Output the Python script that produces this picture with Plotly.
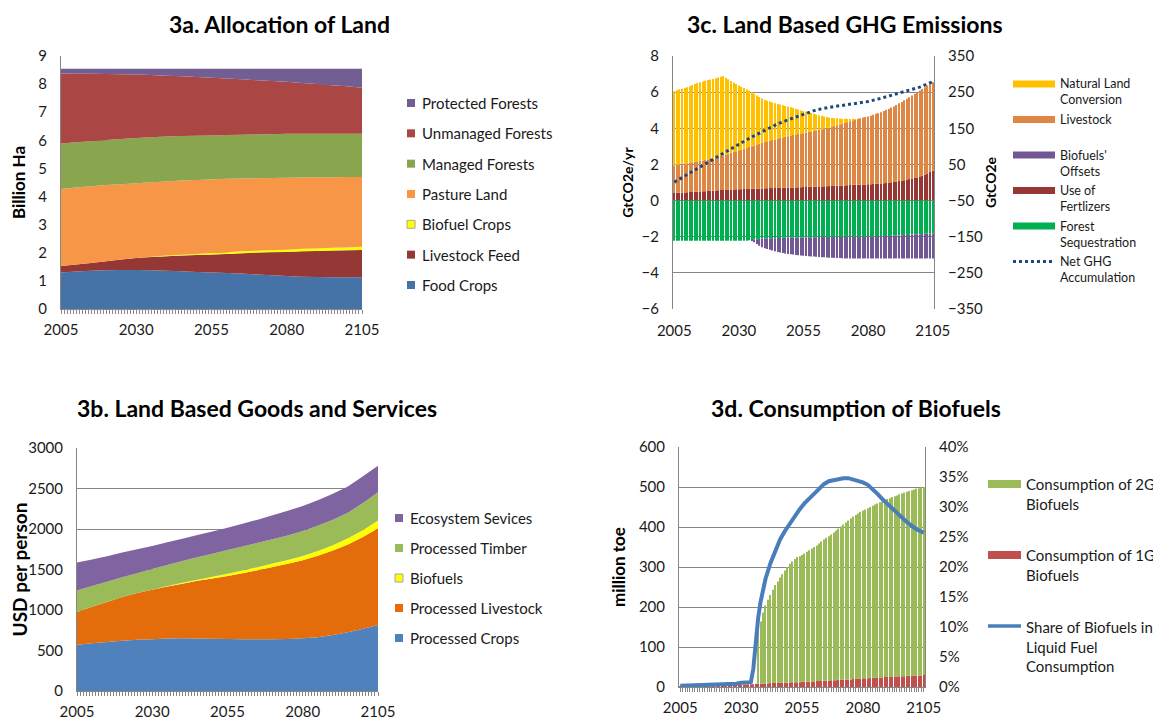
import plotly.graph_objects as go

# ---------------- data ----------------
years5 = [2005, 2010, 2015, 2020, 2025, 2030, 2035, 2040, 2045, 2050, 2055,
          2060, 2065, 2070, 2075, 2080, 2085, 2090, 2095, 2100, 2105]
years = list(range(2005, 2106))
x_ticks = [2005, 2030, 2055, 2080, 2105]

# 3a. Allocation of Land (billion ha), 5-year steps
land_food = [1.30, 1.33, 1.36, 1.38, 1.39, 1.39, 1.38, 1.36, 1.34, 1.32, 1.30,
             1.28, 1.26, 1.23, 1.20, 1.17, 1.15, 1.14, 1.13, 1.13, 1.13]
land_livestock_feed = [0.23, 0.25, 0.28, 0.32, 0.37, 0.42, 0.47, 0.52, 0.56, 0.60, 0.64,
                       0.68, 0.72, 0.77, 0.82, 0.86, 0.90, 0.92, 0.95, 0.96, 0.97]
land_biofuel = [0.00, 0.00, 0.00, 0.00, 0.00, 0.00, 0.01, 0.02, 0.03, 0.04, 0.05,
                0.06, 0.07, 0.07, 0.08, 0.08, 0.09, 0.09, 0.10, 0.10, 0.11]
land_pasture = [2.74, 2.74, 2.73, 2.71, 2.68, 2.66, 2.65, 2.64, 2.64, 2.63, 2.62,
                2.61, 2.59, 2.58, 2.56, 2.56, 2.54, 2.54, 2.51, 2.51, 2.49]
land_managed = [1.62, 1.61, 1.60, 1.60, 1.61, 1.61, 1.60, 1.60, 1.58, 1.57, 1.56,
                1.56, 1.56, 1.56, 1.56, 1.56, 1.55, 1.54, 1.54, 1.53, 1.53]
land_unmanaged = [2.49, 2.44, 2.40, 2.35, 2.30, 2.26, 2.21, 2.16, 2.13, 2.09, 2.06,
                  2.01, 1.97, 1.93, 1.89, 1.85, 1.81, 1.77, 1.73, 1.69, 1.64]
land_protected = [0.17, 0.18, 0.18, 0.19, 0.20, 0.21, 0.23, 0.25, 0.27, 0.30, 0.32,
                  0.35, 0.38, 0.41, 0.44, 0.47, 0.51, 0.55, 0.59, 0.63, 0.68]

# 3b. Land Based Goods and Services (USD per person), 5-year steps
gs_crops = [570, 590, 605, 620, 632, 640, 648, 650, 648, 645, 642,
            640, 640, 640, 642, 650, 665, 690, 725, 770, 815]
gs_livestock = [405, 450, 495, 540, 578, 610, 642, 675, 712, 745, 778,
                815, 850, 890, 928, 965, 1005, 1045, 1085, 1130, 1195]
gs_biofuels = [0, 0, 0, 0, 0, 0, 5, 10, 15, 22, 28,
               33, 38, 43, 48, 52, 58, 65, 75, 85, 95]
gs_timber = [265, 255, 250, 245, 245, 255, 260, 270, 275, 283, 292,
             297, 302, 302, 302, 308, 312, 315, 315, 335, 350]
gs_ecosystem = [345, 330, 315, 305, 295, 285, 280, 275, 275, 275, 275,
                280, 285, 295, 305, 310, 315, 320, 325, 330, 325]

# 3c. Land Based GHG Emissions (GtCO2e/yr), annual
ghg_fertilizers = [0.42, 0.43, 0.44, 0.44, 0.45, 0.46, 0.47, 0.48, 0.49, 0.49,
                   0.50, 0.51, 0.52, 0.53, 0.54, 0.55, 0.56, 0.57, 0.58, 0.59,
                   0.59, 0.60, 0.61, 0.61, 0.62, 0.63, 0.63, 0.64, 0.64, 0.65,
                   0.65, 0.66, 0.66, 0.67, 0.67, 0.68, 0.68, 0.69, 0.69, 0.70,
                   0.70, 0.71, 0.71, 0.72, 0.72, 0.73, 0.73, 0.73, 0.74, 0.74,
                   0.75, 0.75, 0.76, 0.76, 0.77, 0.77, 0.78, 0.78, 0.79, 0.79,
                   0.80, 0.80, 0.81, 0.82, 0.82, 0.83, 0.84, 0.85, 0.86, 0.87,
                   0.87, 0.88, 0.88, 0.89, 0.89, 0.90, 0.91, 0.92, 0.93, 0.94,
                   0.95, 0.96, 0.97, 0.99, 1.01, 1.03, 1.05, 1.08, 1.10, 1.13,
                   1.16, 1.19, 1.22, 1.25, 1.28, 1.31, 1.37, 1.43, 1.50, 1.58,
                   1.67]
ghg_livestock = [1.53, 1.54, 1.56, 1.58, 1.60, 1.61, 1.63, 1.64, 1.66, 1.68,
                 1.70, 1.71, 1.73, 1.74, 1.76, 1.77, 1.81, 1.84, 1.88, 1.91,
                 1.96, 2.00, 2.03, 2.08, 2.11, 2.15, 2.19, 2.23, 2.27, 2.31,
                 2.35, 2.39, 2.44, 2.47, 2.52, 2.56, 2.60, 2.62, 2.66, 2.68,
                 2.72, 2.75, 2.78, 2.81, 2.84, 2.87, 2.90, 2.92, 2.94, 2.96,
                 2.98, 3.01, 3.03, 3.06, 3.08, 3.11, 3.13, 3.17, 3.19, 3.23,
                 3.25, 3.29, 3.32, 3.35, 3.39, 3.42, 3.46, 3.49, 3.53, 3.56,
                 3.61, 3.65, 3.68, 3.70, 3.73, 3.75, 3.79, 3.83, 3.87, 3.90,
                 3.94, 3.99, 4.05, 4.09, 4.14, 4.18, 4.24, 4.30, 4.36, 4.42,
                 4.47, 4.53, 4.59, 4.66, 4.72, 4.78, 4.81, 4.84, 4.87, 4.88,
                 4.88]
ghg_natural_land = [4.10, 4.13, 4.15, 4.17, 4.18, 4.20, 4.23, 4.27, 4.30, 4.33,
                    4.35, 4.37, 4.38, 4.40, 4.40, 4.41, 4.40, 4.40, 4.39, 4.38,
                    4.25, 4.11, 3.98, 3.84, 3.72, 3.59, 3.48, 3.36, 3.24, 3.12,
                    3.00, 2.86, 2.72, 2.59, 2.46, 2.33, 2.24, 2.17, 2.08, 2.01,
                    1.93, 1.85, 1.79, 1.71, 1.64, 1.57, 1.49, 1.43, 1.36, 1.29,
                    1.22, 1.15, 1.08, 1.02, 0.95, 0.88, 0.81, 0.74, 0.67, 0.60,
                    0.53, 0.48, 0.43, 0.38, 0.33, 0.28, 0.23, 0.18, 0.13, 0.08,
                    0.03, 0, 0, 0, 0, 0, 0, 0, 0, 0,
                    0, 0, 0, 0, 0, 0, 0, 0, 0, 0,
                    0, 0, 0, 0, 0, 0, 0, 0, 0, 0,
                    0]
ghg_forest = [-2.22, -2.22, -2.22, -2.22, -2.22, -2.22, -2.22, -2.22, -2.22, -2.22,
              -2.22, -2.22, -2.22, -2.22, -2.22, -2.22, -2.22, -2.22, -2.22, -2.22,
              -2.22, -2.22, -2.22, -2.22, -2.22, -2.22, -2.22, -2.22, -2.22, -2.20,
              -2.18, -2.16, -2.14, -2.12, -2.11, -2.10, -2.09, -2.09, -2.08, -2.08,
              -2.07, -2.07, -2.06, -2.06, -2.05, -2.05, -2.05, -2.04, -2.04, -2.04,
              -2.04, -2.04, -2.03, -2.03, -2.03, -2.03, -2.02, -2.02, -2.02, -2.02,
              -2.02, -2.01, -2.01, -2.01, -2.01, -2.01, -2.00, -2.00, -2.00, -2.00,
              -2.00, -2.00, -2.00, -2.00, -2.00, -2.00, -1.99, -1.99, -1.98, -1.98,
              -1.97, -1.97, -1.96, -1.96, -1.95, -1.95, -1.94, -1.93, -1.92, -1.91,
              -1.90, -1.89, -1.88, -1.87, -1.86, -1.86, -1.85, -1.84, -1.83, -1.83,
              -1.82]
ghg_biofuel_offsets = [0, 0, 0, 0, 0, 0, 0, 0, 0, 0,
                       0, 0, 0, 0, 0, 0, 0, 0, 0, 0,
                       0, 0, 0, 0, 0, 0, 0, 0, 0, 0,
                       -0.02, -0.14, -0.26, -0.38, -0.47, -0.54, -0.59, -0.63, -0.68, -0.72,
                       -0.77, -0.80, -0.84, -0.87, -0.90, -0.92, -0.94, -0.97, -0.99, -1.00,
                       -1.01, -1.03, -1.05, -1.06, -1.07, -1.08, -1.10, -1.11, -1.12, -1.13,
                       -1.14, -1.16, -1.16, -1.17, -1.17, -1.18, -1.20, -1.20, -1.20, -1.20,
                       -1.20, -1.20, -1.20, -1.20, -1.20, -1.20, -1.21, -1.21, -1.22, -1.22,
                       -1.23, -1.23, -1.24, -1.24, -1.25, -1.25, -1.26, -1.27, -1.28, -1.29,
                       -1.30, -1.31, -1.32, -1.33, -1.34, -1.34, -1.35, -1.36, -1.37, -1.37,
                       -1.38]
ghg_net_accumulation = [1, 22, 43, 66, 87, 106, 126, 144, 162, 176, 188,
                        201, 208, 213, 219, 224, 233, 243, 254, 264, 279]

# 3d. Consumption of Biofuels (million toe), annual
bio_1g = [1, 1, 1, 1, 1, 2, 2, 2, 2, 2,
          2, 2, 2, 3, 3, 3, 3, 3, 4, 4,
          4, 4, 5, 5, 5, 6, 6, 6, 7, 7,
          7, 8, 8, 8, 9, 9, 9, 10, 10, 10,
          10, 11, 11, 11, 11, 12, 12, 12, 12, 12,
          13, 13, 13, 14, 14, 14, 15, 15, 15, 16,
          16, 16, 17, 17, 17, 18, 18, 18, 19, 19,
          19, 20, 20, 21, 21, 22, 22, 22, 23, 23,
          23, 24, 24, 24, 25, 25, 25, 26, 26, 26,
          27, 27, 27, 28, 28, 28, 28, 29, 29, 29,
          30]
bio_2g = [0, 0, 0, 0, 0, 0, 0, 0, 0, 0,
          0, 0, 0, 0, 0, 0, 0, 0, 0, 0,
          0, 0, 0, 0, 0, 0, 0, 0, 0, 0,
          0, 0, 131, 156, 177, 195, 209, 220, 233, 245,
          254, 263, 271, 280, 289, 296, 302, 308, 313, 315,
          317, 321, 325, 328, 332, 336, 339, 344, 349, 353,
          357, 361, 364, 369, 374, 378, 383, 388, 392, 397,
          402, 406, 410, 413, 417, 419, 422, 425, 427, 430,
          433, 435, 438, 440, 442, 445, 447, 449, 451, 453,
          455, 457, 459, 460, 462, 464, 466, 467, 468, 470,
          470]
share_years = [2005, 2010, 2015, 2020, 2025, 2028, 2030, 2033, 2034, 2035, 2036,
               2037, 2038, 2039, 2040, 2042, 2044, 2046, 2048, 2050, 2052, 2054,
               2056, 2058, 2060, 2062, 2064, 2066, 2068, 2070, 2072, 2074, 2076,
               2078, 2080, 2082, 2084, 2086, 2088, 2090, 2092, 2094, 2096, 2098,
               2100, 2102, 2105]
share_pct = [0.2, 0.25, 0.3, 0.35, 0.45, 0.55, 0.7, 0.75, 0.8, 3.0, 8.0,
             11.5, 14.2, 16.3, 18.0, 20.6, 22.8, 24.6, 26.0, 27.3, 28.5, 29.6,
             30.6, 31.4, 32.3, 33.1, 33.8, 34.3, 34.5, 34.7, 34.8, 34.8, 34.6,
             34.4, 34.1, 33.7, 33.0, 32.2, 31.3, 30.5, 29.7, 28.9, 28.2, 27.5,
             26.9, 26.3, 25.7]

# ---------------- styling ----------------
W, H = 1161, 721
PAGE_MARGIN = 8  # default browser body margin around the plot div
FONT = "Lato"
GRID = "#868686"
TXT = "#1a1a1a"


def fx(p):
    return (p - PAGE_MARGIN) / W


def fy(p):
    return 1 - (p - PAGE_MARGIN) / H


fig = go.Figure()

# 3a stacked areas (bottom to top)
land_series = [
    ("Food Crops", land_food, "#4572A7"),
    ("Livestock Feed", land_livestock_feed, "#953735"),
    ("Biofuel Crops", land_biofuel, "#FFFF00"),
    ("Pasture Land", land_pasture, "#F79646"),
    ("Managed Forests", land_managed, "#89A54E"),
    ("Unmanaged Forests", land_unmanaged, "#AA4643"),
    ("Protected Forests", land_protected, "#725E93"),
]
for name, vals, col in land_series:
    fig.add_trace(go.Scatter(x=years5, y=vals, name=name, mode="none",
                             stackgroup="land", fillcolor=col,
                             xaxis="x", yaxis="y"))

# 3b stacked areas
gs_series = [
    ("Processed Crops", gs_crops, "#4F81BD"),
    ("Processed Livestock", gs_livestock, "#E46C0A"),
    ("Biofuels", gs_biofuels, "#FFFF00"),
    ("Processed Timber", gs_timber, "#9BBB59"),
    ("Ecosystem Sevices", gs_ecosystem, "#8064A2"),
]
for name, vals, col in gs_series:
    fig.add_trace(go.Scatter(x=years5, y=vals, name=name, mode="none",
                             stackgroup="gs", fillcolor=col,
                             xaxis="x2", yaxis="y2"))

# 3c stacked bars (stack order) + net accumulation line
C_FERT, C_LIVE, C_NAT, C_FOR, C_OFF, C_NET = ("#953735", "#DE8744", "#FFC000",
                                              "#00B050", "#715894", "#1F497D")
ghg_series = [
    ("Use of Fertlizers", ghg_fertilizers, C_FERT),
    ("Livestock", ghg_livestock, C_LIVE),
    ("Natural Land Conversion", ghg_natural_land, C_NAT),
    ("Forest Sequestration", ghg_forest, C_FOR),
    ("Biofuels' Offsets", ghg_biofuel_offsets, C_OFF),
]
for name, vals, col in ghg_series:
    fig.add_trace(go.Bar(x=years, y=vals, name=name, marker_color=col,
                         marker_line_width=0, xaxis="x3", yaxis="y3"))
fig.add_trace(go.Scatter(x=years5, y=ghg_net_accumulation, name="Net GHG Accumulation",
                         mode="lines", line=dict(color=C_NET, width=3, dash="dot"),
                         xaxis="x3", yaxis="y4"))

# 3d stacked bars + share line
C_1G, C_2G, C_SH = "#C0504D", "#9BBB59", "#4A7EBB"
fig.add_trace(go.Bar(x=years, y=bio_1g, name="Consumption of 1G Biofuels",
                     marker_color=C_1G, marker_line_width=0, xaxis="x4", yaxis="y5"))
fig.add_trace(go.Bar(x=years, y=bio_2g, name="Consumption of 2G Biofuels",
                     marker_color=C_2G, marker_line_width=0, xaxis="x4", yaxis="y5"))
fig.add_trace(go.Scatter(x=share_years, y=share_pct,
                         name="Share of Biofuels in Liquid Fuel Consumption",
                         mode="lines", line=dict(color=C_SH, width=4),
                         xaxis="x4", yaxis="y6"))

tickfont = dict(family=FONT, size=15, color=TXT)


def xax(domain, anchor, rng, minor=True):
    d = dict(domain=domain, anchor=anchor, range=rng, tickmode="array",
             tickvals=x_ticks, ticktext=[str(t) for t in x_ticks],
             tickfont=tickfont, showgrid=False, zeroline=False, automargin=False,
             showline=minor, linecolor=GRID, linewidth=1,
             ticks="outside" if minor else "", ticklen=4, tickcolor=GRID,
             ticklabelstandoff=3 if minor else 11)
    if minor:
        d["minor"] = dict(tickmode="linear", tick0=2005, dtick=1, ticks="outside",
                          ticklen=4, tickcolor=GRID)
    return d


def yax(domain, anchor, rng, dtick, title, tsize, standoff, **kw):
    d = dict(domain=domain, anchor=anchor, range=rng, dtick=dtick,
             tickfont=tickfont, showgrid=True, gridcolor=GRID, gridwidth=1,
             zeroline=False, showline=True, linecolor=GRID, linewidth=1,
             automargin=False,
             ticks="outside", ticklen=10, tickcolor="rgba(0,0,0,0)",
             title=dict(text=title, font=dict(family=FONT, size=tsize, color="#000000",
                                              weight="bold"), standoff=standoff))
    d.update(kw)
    return d


# ---------------- manual legends ----------------
shapes = []
annotations = []


def legend_item(kind, color, x0, w, h, yc, label, x_txt, size, nlines=1, lh=0.0, border=None):
    if kind == "rect":
        shapes.append(dict(type="rect", xref="paper", yref="paper",
                           x0=fx(x0), x1=fx(x0 + w), y0=fy(yc + h / 2), y1=fy(yc - h / 2),
                           fillcolor=color,
                           line=dict(width=1 if border else 0, color=border or color)))
    else:
        shapes.append(dict(type="line", xref="paper", yref="paper",
                           x0=fx(x0), x1=fx(x0 + w), y0=fy(yc), y1=fy(yc),
                           line=dict(color=color, width=h, dash=kind)))
    annotations.append(dict(text=label, x=fx(x_txt), y=fy(yc + (nlines - 1) * lh / 2),
                            xref="paper", yref="paper", xanchor="left", yanchor="middle",
                            align="left", showarrow=False,
                            font=dict(family=FONT, size=size, color=TXT)))


# 3a legend (top to bottom)
for i, (name, vals, col) in enumerate(reversed(land_series)):
    legend_item("rect", col, 407, 8, 8, 103 + 30.33 * i, name, 420, 15,
                border="#A6A6A6" if col == "#FFFF00" else None)
# 3b legend
for i, (name, vals, col) in enumerate(reversed(gs_series)):
    legend_item("rect", col, 395, 8, 8, 518 + 30 * i, name, 408, 15,
                border="#A6A6A6" if col == "#FFFF00" else None)
# 3c legend
ghg_legend = [
    ("Natural Land<br>Conversion", C_NAT, "rect", 2),
    ("Livestock", C_LIVE, "rect", 1),
    ("Biofuels'<br>Offsets", C_OFF, "rect", 2),
    ("Use of<br>Fertlizers", C_FERT, "rect", 2),
    ("Forest<br>Sequestration", C_FOR, "rect", 2),
    ("Net GHG<br>Accumulation", C_NET, "dot", 2),
]
for i, (label, col, kind, nl) in enumerate(ghg_legend):
    legend_item(kind, col, 1013, 42, 7 if kind == "rect" else 3, 84 + 35.5 * i,
                label, 1058, 12.5, nlines=nl, lh=16)
# 3d legend
bio_legend = [
    ("Consumption of 2G<br>Biofuels", C_2G, "rect", 2, 484),
    ("Consumption of 1G<br>Biofuels", C_1G, "rect", 2, 555),
    ("Share of Biofuels in<br>Liquid Fuel<br>Consumption", C_SH, "solid", 3, 626),
]
for label, col, kind, nl, yc in bio_legend:
    legend_item(kind, col, 988, 33, 8 if kind == "rect" else 3.5, yc,
                label, 1024, 15, nlines=nl, lh=20.5)

# titles
for text, cx, cy in [("3a. Allocation of Land", 279, 24),
                     ("3c. Land Based GHG Emissions", 845, 24),
                     ("3b. Land Based Goods and Services", 257, 408),
                     ("3d. Consumption of Biofuels", 856, 408)]:
    annotations.append(dict(text="<b>" + text + "</b>", x=fx(cx), y=fy(cy),
                            xref="paper", yref="paper", xanchor="center", yanchor="middle",
                            borderpad=0, showarrow=False,
                            font=dict(family=FONT, size=23, color="#000000")))

fig.update_layout(
    width=W, height=H, margin=dict(l=0, r=0, t=0, b=0, autoexpand=False),
    paper_bgcolor="white", plot_bgcolor="white", showlegend=False,
    font=dict(family=FONT, color=TXT),
    barmode="relative", bargap=0.55,
    xaxis=xax([fx(61), fx(362)], "y", [2005, 2105]),
    yaxis=yax([fy(309), fy(56)], "x", [0, 9], 1, "Billion Ha", 17, 8),
    xaxis2=xax([fx(77), fx(378)], "y2", [2005, 2105]),
    yaxis2=yax([fy(691), fy(448)], "x2", [0, 3000], 500, "USD per person", 19, 6),
    xaxis3=xax([fx(673), fx(934)], "y3", [2004.5, 2105.5], minor=False),
    yaxis3=yax([fy(309), fy(56)], "x3", [-6, 8], 2, "GtCO2e/yr", 14, 4),
    yaxis4=yax([fy(309), fy(56)], "x3", [-350, 350], 100, "GtCO2e", 14, 4,
               overlaying="y3", side="right", showgrid=False, tick0=-350),
    xaxis4=xax([fx(679), fx(925)], "y5", [2004.5, 2105.5]),
    yaxis5=yax([fy(687), fy(447)], "x4", [0, 600], 100, "million toe", 17, 8),
    yaxis6=yax([fy(687), fy(447)], "x4", [0, 40], 5, "", 14, 8,
               overlaying="y5", side="right", showgrid=False, ticksuffix="%"),
    shapes=shapes,
    annotations=annotations,
)

fig.write_html("out.html")
